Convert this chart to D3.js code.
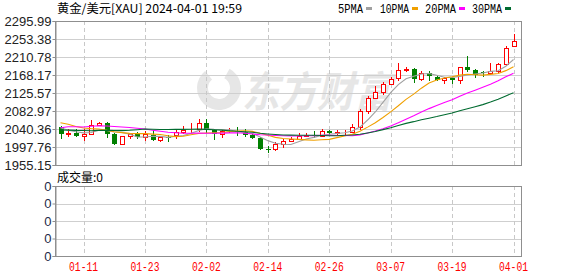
<!DOCTYPE html>
<html>
<head>
<meta charset="utf-8">
<script src="https://cdn.jsdelivr.net/npm/d3@7"></script>
<style>
    html, body {margin: 0; padding: 0; background: #fff;}
    svg {display: block;}
</style>
</head>
<body>
<svg id="mainsvg" width="578" height="276"></svg>
<script>
// trading days shown (MM-DD, 2024)
let dates = ["01-08","01-09","01-10","01-11","01-12","01-15","01-16","01-17","01-18","01-19",
    "01-22","01-23","01-24","01-25","01-26","01-29","01-30","01-31","02-01","02-02",
    "02-05","02-06","02-07","02-08","02-09","02-12","02-13","02-14","02-15","02-16",
    "02-19","02-20","02-21","02-22","02-23","02-26","02-27","02-28","02-29","03-01",
    "03-04","03-05","03-06","03-07","03-08","03-11","03-12","03-13","03-14","03-15",
    "03-18","03-19","03-20","03-21","03-22","03-25","03-26","03-27","03-28","04-01"];
let opens = [2045,2028,2030,2024,2029,2049,2055,2028,2006,2023,
    2029,2021,2025,2014,2021,2027,2033,2037,2040,2054,
    2039,2028,2035,2035,2034,2025,2020,1993,1992,2004,
    2013,2017,2024,2025,2024,2036,2031,2033,2034,2044,
    2083,2114,2128,2148,2160,2179,2182,2159,2174,2164,
    2156,2160,2157,2186,2181,2175,2173,2178,2194,2237];
let highs = [2048,2041,2040,2040,2062,2058,2057,2031,2024,2031,
    2034,2036,2037,2023,2025,2041,2048,2055,2065,2065,
    2041,2040,2043,2044,2040,2032,2022,1999,2009,2016,
    2022,2031,2032,2035,2041,2037,2039,2037,2052,2088,
    2119,2141,2152,2164,2196,2186,2185,2177,2178,2168,
    2164,2163,2188,2212,2182,2178,2197,2196,2236,2266];
let lows = [2017,2022,2021,2013,2027,2048,2020,2002,2004,2017,
    2016,2011,2011,2009,2009,2016,2029,2032,2034,2031,
    2014,2018,2030,2024,2022,2016,1990,1984,1988,1996,
    2012,2016,2021,2020,2022,2026,2026,2025,2030,2038,
    2076,2114,2120,2145,2155,2176,2150,2153,2154,2154,
    2148,2146,2147,2175,2160,2164,2168,2174,2190,2234];
let closes = [2028,2030,2024,2029,2049,2055,2028,2006,2023,2029,
    2021,2029,2014,2021,2018,2034,2038,2039,2054,2040,
    2028,2035,2035,2034,2025,2020,1993,1992,2004,2013,
    2017,2024,2025,2024,2036,2031,2033,2034,2044,2083,
    2114,2128,2148,2159,2179,2182,2159,2174,2165,2157,
    2160,2157,2186,2181,2168,2172,2177,2194,2233,2248];
// closes before 01-08, only used to start the moving averages
let prevCloses = [2041,2044,2036,2072,2029,2019,2026,2028,2005,1981,
    1980,2027,2036,2019,2027,2040,2031,2046,2053,2053,
    2067,2077,2065,2063,2063,2059,2042,2043,2045];

let maPeriods = [5, 10, 20, 30];
let maNames = ["5PMA", "10PMA", "20PMA", "30PMA"];
let maColors = ["#a0a0a0", "#f0a000", "#ff00ff", "#006b30"];

let yTickLabels = ["1955.15","1997.76","2040.36","2082.97","2125.57","2168.17","2210.78","2253.38","2295.99"];
let xTickLabels = ["01-11","01-23","02-02","02-14","02-26","03-07","03-19","04-01"];
let volTickLabels = ["0","0","0","0","0"];

let svg = d3.select("#mainsvg");
let left = 55, right = 522;
let mainTop = 21, mainBottom = 165;
let volTop = 186, volBottom = 256;

let x = d3.scalePoint().domain(dates).range([60.5, 513.5]);
let y = d3.scaleLinear().domain([+yTickLabels[0], +yTickLabels[yTickLabels.length-1]]).range([mainBottom, mainTop]);
let yv = d3.scaleLinear().domain([0, volTickLabels.length-1]).range([volBottom, volTop]);

let gridg = svg.append("g").attr("id", "grid-g");
let markg = svg.append("g").attr("id", "mark-g");
let lineg = svg.append("g").attr("id", "line-g");
let axisg = svg.append("g").attr("id", "axis-g");
let textg = svg.append("g").attr("id", "text-g");

// watermark
let wm = gridg.append("g").attr("id", "watermark-g").attr("fill", "#e6e6e6");
wm.append("path")
    .attr("transform", "translate(219,88)")
    .attr("d", d3.arc().innerRadius(11).outerRadius(22).startAngle(0.5).endAngle(5.6)());
wm.append("text")
    .attr("x", 242).attr("y", 107)
    .attr("font-family", "Noto Sans CJK SC")
    .attr("font-weight", "bold")
    .attr("font-style", "italic")
    .attr("font-size", 42)
    .attr("textLength", 150)
    .attr("lengthAdjust", "spacingAndGlyphs")
    .text("东方财富");

// horizontal grid
gridg.selectAll(".hgrid").data(yTickLabels.slice(1, -1))
    .enter().append("line")
    .attr("class", "hgrid")
    .attr("x1", left).attr("x2", right)
    .attr("y1", d => Math.round(y(+d)) + 0.5).attr("y2", d => Math.round(y(+d)) + 0.5)
    .attr("stroke", "#cfcfcf");
gridg.selectAll(".vhgrid").data(d3.range(1, volTickLabels.length-1))
    .enter().append("line")
    .attr("class", "vhgrid")
    .attr("x1", left).attr("x2", right)
    .attr("y1", d => Math.round(yv(d)) + 0.5).attr("y2", d => Math.round(yv(d)) + 0.5)
    .attr("stroke", "#cfcfcf");
// vertical dashed grid in both panels
[[mainTop, mainBottom], [volTop, volBottom]].forEach(function (p) {
    gridg.append("g").selectAll("line").data(xTickLabels)
        .enter().append("line")
        .attr("x1", d => Math.round(x(d)) + 0.5).attr("x2", d => Math.round(x(d)) + 0.5)
        .attr("y1", p[0]).attr("y2", p[1])
        .attr("stroke", "#c8c8c8")
        .attr("stroke-dasharray", "4,3");
});

// candles
let candle = markg.selectAll(".candle").data(dates)
    .enter().append("g")
    .attr("class", "candle")
    .each(function (d, i) {
        let ele = d3.select(this);
        let cx = Math.round(x(d));
        let up = closes[i] >= opens[i];
        let color = up ? "#ff0000" : "#008000";
        let yTop = Math.round(y(Math.max(opens[i], closes[i])));
        let yBot = Math.round(y(Math.min(opens[i], closes[i])));
        ele.append("line")
            .attr("x1", cx + 0.5).attr("x2", cx + 0.5)
            .attr("y1", Math.round(y(highs[i]))).attr("y2", Math.round(y(lows[i])))
            .attr("stroke", color);
        if (up) {
            ele.append("rect")
                .attr("x", cx - 1.5).attr("y", yTop + 0.5)
                .attr("width", 4).attr("height", Math.max(yBot - yTop, 0))
                .attr("fill", "#fff").attr("stroke", color);
        } else {
            ele.append("rect")
                .attr("x", cx - 2).attr("y", yTop)
                .attr("width", 5).attr("height", Math.max(yBot - yTop, 1))
                .attr("fill", color);
        }
    });

// moving averages
let allCloses = prevCloses.concat(closes);
let off = prevCloses.length;
maPeriods.forEach(function (n, k) {
    let vals = closes.map((c, i) => d3.mean(allCloses.slice(off + i - n + 1, off + i + 1)));
    lineg.append("path")
        .datum(vals)
        .attr("fill", "none")
        .attr("stroke", maColors[k])
        .attr("stroke-width", 1.1)
        .attr("d", d3.line().x((v, i) => x(dates[i])).y(v => y(v)));
});

// frames
[[mainTop, mainBottom], [volTop, volBottom]].forEach(function (p) {
    axisg.append("rect")
        .attr("x", left + 0.5).attr("y", p[0] + 0.5)
        .attr("width", right - left - 1).attr("height", p[1] - p[0])
        .attr("fill", "none").attr("stroke", "#8f8f8f");
});

// y axis labels
let yAxis = axisg.append("g")
    .attr("transform", "translate(" + (left + 0.5) + ",0)")
    .call(d3.axisLeft(y).tickValues(yTickLabels.map(Number)).tickFormat((d, i) => yTickLabels[i]).tickSize(3).tickPadding(1));
yAxis.select(".domain").attr("stroke", "#8f8f8f");
yAxis.selectAll(".tick line").attr("stroke", "#8f8f8f");
yAxis.selectAll(".tick text")
    .attr("font-family", "Liberation Sans, Arial, sans-serif")
    .attr("font-size", 13)
    .attr("fill", "#222");

let vAxis = axisg.append("g")
    .attr("transform", "translate(" + (left + 0.5) + ",0)")
    .call(d3.axisLeft(yv).tickValues(d3.range(volTickLabels.length)).tickFormat((d, i) => volTickLabels[i]).tickSize(3).tickPadding(1));
vAxis.select(".domain").attr("stroke", "#8f8f8f");
vAxis.selectAll(".tick line").attr("stroke", "#8f8f8f");
vAxis.selectAll(".tick text")
    .attr("font-family", "Liberation Sans, Arial, sans-serif")
    .attr("font-size", 13)
    .attr("fill", "#1d2a48");

// x labels
textg.selectAll(".xlabel").data(xTickLabels)
    .enter().append("text")
    .attr("class", "xlabel")
    .attr("x", d => x(d))
    .attr("y", 271)
    .attr("text-anchor", "middle")
    .attr("font-family", "Liberation Mono, monospace")
    .attr("font-size", 12.5)
    .attr("textLength", 29)
    .attr("lengthAdjust", "spacingAndGlyphs")
    .attr("fill", "#ff0000")
    .text(d => d);

// title
textg.append("text")
    .attr("x", 57).attr("y", 13)
    .attr("font-family", "Noto Sans CJK SC, Liberation Mono, monospace")
    .attr("font-size", 12)
    .attr("textLength", 185)
    .attr("lengthAdjust", "spacingAndGlyphs")
    .attr("fill", "#000")
    .text("黄金/美元[XAU] 2024-04-01 19:59");

// legend
let legendX = [338, 380, 425, 472];
let legendW = [25, 29, 31, 30];
maNames.forEach(function (name, k) {
    textg.append("text")
        .attr("x", legendX[k]).attr("y", 13)
        .attr("font-family", "Liberation Mono, monospace")
        .attr("font-size", 12.5)
        .attr("textLength", legendW[k])
        .attr("lengthAdjust", "spacingAndGlyphs")
        .attr("fill", "#000")
        .text(name);
    textg.append("rect")
        .attr("x", legendX[k] + legendW[k] + 3).attr("y", 7)
        .attr("width", 6).attr("height", 3)
        .attr("fill", maColors[k]);
});

// volume label
textg.append("text")
    .attr("x", 57).attr("y", 182)
    .attr("font-family", "Noto Sans CJK SC, sans-serif")
    .attr("font-size", 12)
    .attr("fill", "#000")
    .text("成交量:0");
</script>
</body>
</html>
